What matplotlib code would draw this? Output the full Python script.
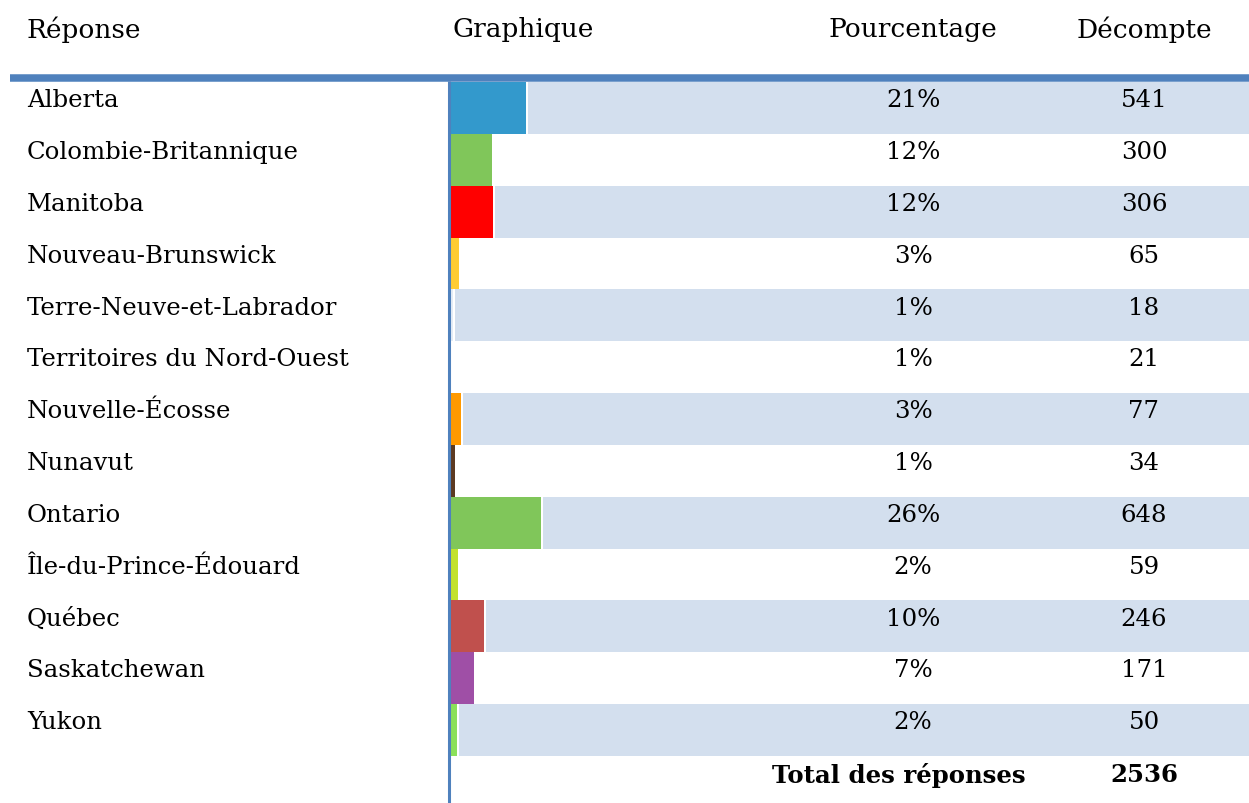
import matplotlib.pyplot as plt
from matplotlib.lines import Line2D
from matplotlib.transforms import blended_transform_factory

W, H = 1249, 804

provinces = ["Alberta", "Colombie-Britannique", "Manitoba", "Nouveau-Brunswick",
             "Terre-Neuve-et-Labrador", "Territoires du Nord-Ouest", "Nouvelle-Écosse",
             "Nunavut", "Ontario", "Île-du-Prince-Édouard", "Québec", "Saskatchewan", "Yukon"]
percents = ["21%", "12%", "12%", "3%", "1%", "1%", "3%", "1%", "26%", "2%", "10%", "7%", "2%"]
counts = [541, 300, 306, 65, 18, 21, 77, 34, 648, 59, 246, 171, 50]
bar_colors = ["#3399CC", "#80C65A", "#FF0000", "#FFCC33", "#E4ECF6", "#FFFFFF", "#FF9900",
              "#5C3A21", "#80C65A", "#C3E22C", "#C0504D", "#9F4FA6", "#8BE05A"]
headers = ["Réponse", "Graphique", "Pourcentage", "Décompte"]
total_label = "Total des réponses"
total = 2536

BLUE = "#4F81BD"
BAND = "#D3DFEE"
FONT = "DejaVu Serif"
FS = 17.6
FS_HEAD = 19

px_per_count = 0.14

fig = plt.figure(figsize=(W / 100, H / 100), dpi=100)
ax = fig.add_axes([450 / W, 1 - 757 / H, (W - 450) / W, (757 - 83) / H])
xmax = (W - 450) / px_per_count
ax.set_xlim(0, xmax)
n = len(provinces)
ax.set_ylim(n - 0.5, -0.5)
ax.axis("off")

gap = 2 / px_per_count
for i, c in enumerate(counts):
    if i % 2 == 0:
        ax.barh(i, xmax - c - gap, left=c + gap, height=1, color=BAND, linewidth=0)
    ax.barh(i, c, height=1, color=bar_colors[i], linewidth=0)

# text sits a bit above the row middle
dy = -0.16
tr = blended_transform_factory(fig.transFigure, ax.transData)
for i, name in enumerate(provinces):
    ax.text(27 / W, i + dy, name, transform=tr, ha="left", va="center", fontsize=FS, family=FONT)
    ax.text(913 / W, i + dy, percents[i], transform=tr, ha="center", va="center", fontsize=FS, family=FONT)
    ax.text(1144 / W, i + dy, str(counts[i]), transform=tr, ha="center", va="center", fontsize=FS, family=FONT)

ax.text(1026 / W, n - 0.15, total_label, transform=tr, ha="right", va="center",
        fontsize=FS, family=FONT, fontweight="bold")
ax.text(1144 / W, n - 0.15, str(total), transform=tr, ha="center", va="center",
        fontsize=FS, family=FONT, fontweight="bold")

# header
hy = 1 - 30 / H
fig.text(27 / W, hy, headers[0], ha="left", va="center", fontsize=FS_HEAD, family=FONT)
fig.text(453 / W, hy, headers[1], ha="left", va="center", fontsize=FS_HEAD, family=FONT)
fig.text(913 / W, hy, headers[2], ha="center", va="center", fontsize=FS_HEAD, family=FONT)
fig.text(1144 / W, hy, headers[3], ha="center", va="center", fontsize=FS_HEAD, family=FONT)

fig.add_artist(Line2D([10 / W, 1], [1 - 79 / H, 1 - 79 / H], transform=fig.transFigure,
                      color=BLUE, linewidth=5.4, solid_capstyle="butt"))
fig.add_artist(Line2D([448.5 / W, 448.5 / W], [1 - 82 / H, 0], transform=fig.transFigure,
                      color=BLUE, linewidth=2.2, solid_capstyle="butt"))

fig.savefig("out.png", dpi=100, facecolor="white")
